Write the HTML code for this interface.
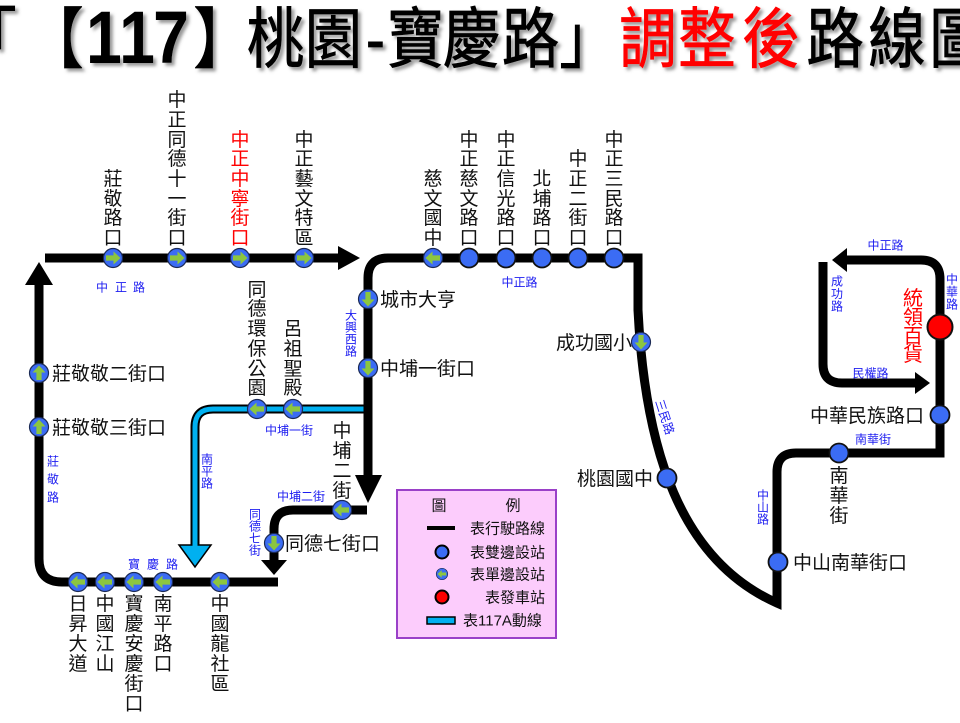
<!DOCTYPE html>
<html><head><meta charset="utf-8">
<style>
html,body{margin:0;padding:0;background:#fff;}
svg{display:block;}
.lb{font-family:"Liberation Sans","Noto Sans CJK TC",sans-serif;font-size:19px;fill:#111;}
.bl{font-family:"Liberation Sans","Noto Sans CJK TC",sans-serif;font-size:12px;fill:#1c1cf0;}
.lg{font-family:"Liberation Sans","Noto Sans CJK TC",sans-serif;font-size:15px;fill:#111;}
.tt{font-family:"Liberation Sans","Noto Sans CJK TC",sans-serif;font-weight:normal;font-size:66px;fill:#000;stroke:#000;stroke-width:0.8px;}
.td{font-family:"Liberation Sans","Noto Sans CJK TC",sans-serif;font-weight:bold;font-size:74px;fill:#000;}
</style></head>
<body>
<svg width="960" height="723" viewBox="0 0 960 723" xmlns="http://www.w3.org/2000/svg">
<defs>
<filter id="sh" x="-5%" y="-20%" width="110%" height="150%"><feDropShadow dx="3" dy="3" stdDeviation="1.5" flood-color="#555" flood-opacity="0.6"/></filter>
<g id="sR"><circle r="9.5" fill="#3b6cf4" stroke="#1b2a55" stroke-width="1.2"/><polygon points="-7,-2.6 0.5,-2.6 0.5,-6.5 7.5,0 0.5,6.5 0.5,2.6 -7,2.6" fill="#8cc63f"/></g>
<g id="sD"><circle r="9.5" fill="#3b6cf4" stroke="#111" stroke-width="1.8"/></g>
</defs>
<rect width="960" height="723" fill="#fff"/>

<!-- Title -->
<g filter="url(#sh)">
<g transform="scale(0.87,1)" text-anchor="middle">
<text class="tt" x="-13.8 63.2" y="62">「【</text>
<text class="td" x="119.5 157.5 196.6" y="63">117</text>
<text class="tt" x="255.2 316.7 383.3 431.6 477.6 542 609.8 675.9" y="62">】桃園-寶慶路」</text>
<text class="tt" style="fill:#ff0000;stroke:#ff0000" x="744.8 812.6 886.2" y="62">調整後</text>
<text class="tt" x="959.8 1031 1101.1" y="62">路線圖</text>
</g>
</g>

<!-- 117A blue line -->
<path d="M368 409 L213 409 Q195 409 195 427 L195 546" fill="none" stroke="#000" stroke-width="9"/>
<path d="M368 409 L213 409 Q195 409 195 427 L195 546" fill="none" stroke="#00b0f0" stroke-width="5"/>
<polygon points="179,545 211,545 195,567" fill="#00b0f0" stroke="#000" stroke-width="1.5"/>
<line x1="195" y1="538" x2="195" y2="548" stroke="#00b0f0" stroke-width="5"/>

<!-- Black route lines -->
<g fill="none" stroke="#000" stroke-width="9" stroke-linejoin="miter">
<path d="M45 258 L339 258"/>
<path d="M278 582 L62 582 Q39 582 39 559 L39 283"/>
<path d="M368 476 L368 278 Q368 258 388 258 L638 258 L638 310 C645 450 680 560 777 603 L777 472 Q777 453 796 453 L940 453 L940 279 Q940 260 921 260 L846 260"/>
<path d="M367 510 L293 510 Q274 510 274 529 L274 561"/>
<path d="M823 262 L823 364 Q823 383 842 383 L916 383"/>
</g>
<g fill="#000">
<polygon points="338,246 360,258 338,270"/>
<polygon points="25,285 39,262 53,285"/>
<polygon points="355,475 368,503 382,475"/>
<polygon points="261,560 274,575 287,560"/>
<polygon points="847,248 832,260 847,272"/>
<polygon points="915,372 930,383 915,394"/>
</g>

<!-- Stops -->
<use href="#sR" transform="translate(113,258)"/>
<use href="#sR" transform="translate(177,258)"/>
<use href="#sR" transform="translate(240,258)"/>
<use href="#sR" transform="translate(304,258)"/>
<use href="#sR" transform="translate(433,258) rotate(180)"/>
<use href="#sD" transform="translate(469,258)"/>
<use href="#sD" transform="translate(506,258)"/>
<use href="#sD" transform="translate(542,258)"/>
<use href="#sD" transform="translate(578,258)"/>
<use href="#sD" transform="translate(614,258)"/>
<use href="#sR" transform="translate(368,299) rotate(90)"/>
<use href="#sR" transform="translate(368,368) rotate(90)"/>
<use href="#sR" transform="translate(257,409) rotate(180)"/>
<use href="#sR" transform="translate(293,409) rotate(180)"/>
<use href="#sR" transform="translate(342,510) rotate(180)"/>
<use href="#sR" transform="translate(274,543) rotate(90)"/>
<use href="#sR" transform="translate(39,373) rotate(-90)"/>
<use href="#sR" transform="translate(39,427) rotate(-90)"/>
<use href="#sR" transform="translate(78,582) rotate(180)"/>
<use href="#sR" transform="translate(105,582) rotate(180)"/>
<use href="#sR" transform="translate(134,582) rotate(180)"/>
<use href="#sR" transform="translate(163,582) rotate(180)"/>
<use href="#sR" transform="translate(220,582) rotate(180)"/>
<use href="#sR" transform="translate(641,342) rotate(90)"/>
<use href="#sD" transform="translate(667,478)"/>
<use href="#sD" transform="translate(778,562)"/>
<use href="#sD" transform="translate(839,453)"/>
<use href="#sD" transform="translate(940,415)"/>
<circle cx="940" cy="327" r="12.5" fill="#ff0000" stroke="#111" stroke-width="2"/>

<!-- Vertical black labels (top) -->
<g text-anchor="middle">
<text class="lb" x="113 113 113 113" y="185 205 224 244">莊敬路口</text>
<text class="lb" x="177 177 177 177 177 177 177 177" y="106 126 146 165 185 205 224 244">中正同德十一街口</text>
<text class="lb" style="fill:#ff0000" x="240 240 240 240 240 240" y="146 165 185 205 224 244">中正中寧街口</text>
<text class="lb" x="304 304 304 304 304 304" y="146 165 185 205 224 244">中正藝文特區</text>
<text class="lb" x="433 433 433 433" y="185 205 224 244">慈文國中</text>
<text class="lb" x="469 469 469 469 469 469" y="146 165 185 205 224 244">中正慈文路口</text>
<text class="lb" x="506 506 506 506 506 506" y="146 165 185 205 224 244">中正信光路口</text>
<text class="lb" x="542 542 542 542" y="185 205 224 244">北埔路口</text>
<text class="lb" x="578 578 578 578 578" y="165 185 205 224 244">中正二街口</text>
<text class="lb" x="614 614 614 614 614 614" y="146 165 185 205 224 244">中正三民路口</text>

<text class="lb" x="257 257 257 257 257 257" y="296 315 335 355 375 394">同德環保公園</text>
<text class="lb" x="293 293 293 293" y="335 355 375 394">呂祖聖殿</text>
<text class="lb" x="342 342 342 342" y="437 457 477 497">中埔二街</text>
<text class="lb" x="839 839 839" y="482 502 522">南華街</text>
<text class="lb" style="fill:#ff0000;font-size:20px" x="913 913 913 913" y="305 324 343 361">統領百貨</text>

<!-- bottom labels -->
<text class="lb" x="78 78 78 78" y="610 630 650 670">日昇大道</text>
<text class="lb" x="105 105 105 105" y="610 630 650 670">中國江山</text>
<text class="lb" x="134 134 134 134 134 134" y="610 630 650 670 690 710">寶慶安慶街口</text>
<text class="lb" x="163 163 163 163" y="610 630 650 670">南平路口</text>
<text class="lb" x="220 220 220 220 220" y="610 630 650 670 690">中國龍社區</text>
</g>

<!-- Horizontal black labels -->
<text class="lb" x="380" y="306">城市大亨</text>
<text class="lb" x="380" y="375">中埔一街口</text>
<text class="lb" x="52" y="380">莊敬敬二街口</text>
<text class="lb" x="52" y="434">莊敬敬三街口</text>
<text class="lb" x="285" y="550">同德七街口</text>
<text class="lb" x="632" y="349" text-anchor="end">成功國小</text>
<text class="lb" x="653" y="485" text-anchor="end">桃園國中</text>
<text class="lb" x="793" y="569">中山南華街口</text>
<text class="lb" x="924" y="422" text-anchor="end">中華民族路口</text>

<!-- Blue road labels -->
<g text-anchor="middle">
<text class="bl" x="102 121 139" y="291.5">中正路</text>
<text class="bl" x="519.5" y="286.5">中正路</text>
<text class="bl" x="351 351 351 351" y="319.5 331.5 343.5 355.5">大興西路</text>
<text class="bl" x="289" y="434.5">中埔一街</text>
<text class="bl" x="207 207 207" y="463.5 475.5 487.5">南平路</text>
<text class="bl" x="53 53 53" y="465.5 483.5 501.5">莊敬路</text>
<text class="bl" x="134 153 172" y="568.5">寶慶路</text>
<text class="bl" x="301" y="500.5">中埔二街</text>
<text class="bl" x="255 255 255 255" y="518.5 530.5 542.5 554.5">同德七街</text>
<text class="bl" transform="translate(665,417) rotate(72)" x="0" y="4.5">三民路</text>
<text class="bl" x="763 763 763" y="499.5 511.5 523.5">中山路</text>
<text class="bl" x="873" y="443.5">南華街</text>
<text class="bl" x="885.5" y="249.5">中正路</text>
<text class="bl" x="837 837 837" y="285.5 298 310.5">成功路</text>
<text class="bl" x="952 952 952" y="283.5 296 308.5">中華路</text>
<text class="bl" x="870.5" y="377.5">民權路</text>
</g>

<!-- Legend -->
<rect x="397" y="490" width="159" height="148" fill="#fcccfc" stroke="#9a40c8" stroke-width="2"/>
<text class="lg" x="439" y="510.5" text-anchor="middle">圖</text>
<text class="lg" x="513" y="510.5" text-anchor="middle">例</text>
<line x1="427" y1="528" x2="455" y2="528" stroke="#000" stroke-width="4"/>
<text class="lg" x="470" y="533.5">表行駛路線</text>
<circle cx="442" cy="552" r="6.5" fill="#3b6cf4" stroke="#000" stroke-width="2"/>
<text class="lg" x="470" y="557.5">表雙邊設站</text>
<g transform="translate(442,574) scale(0.6) rotate(180)"><circle r="9.5" fill="#3b6cf4" stroke="#1b2a55" stroke-width="1.2"/><polygon points="-7,-2.6 0.5,-2.6 0.5,-6.5 7.5,0 0.5,6.5 0.5,2.6 -7,2.6" fill="#8cc63f"/></g>
<text class="lg" x="470" y="579.5">表單邊設站</text>
<circle cx="442" cy="597" r="6.5" fill="#ff0000" stroke="#000" stroke-width="2"/>
<text class="lg" x="485" y="602.5">表發車站</text>
<rect x="427" y="617" width="28" height="7" fill="#00b0f0" stroke="#000" stroke-width="1.5"/>
<text class="lg" x="463" y="625.5">表117A動線</text>
</svg>
</body></html>
